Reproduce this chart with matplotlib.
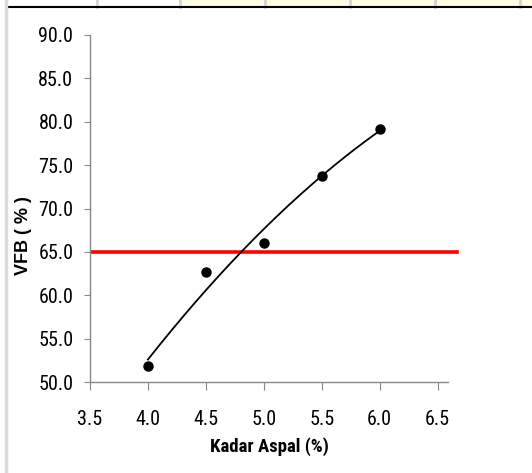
import numpy as np
import matplotlib
matplotlib.use("Agg")
import matplotlib.pyplot as plt
from matplotlib.patches import Rectangle
from matplotlib.lines import Line2D
from matplotlib import font_manager

# ── Data ──────────────────────────────────────────────────────────────────
kadar_aspal = [4.0, 4.5, 5.0, 5.5, 6.0]
vfb = [51.8, 62.7, 66.0, 73.8, 79.2]
vfb_limit = 65.0

x_ticks = [3.5, 4.0, 4.5, 5.0, 5.5, 6.0, 6.5]
y_ticks = [50.0, 55.0, 60.0, 65.0, 70.0, 75.0, 80.0, 85.0, 90.0]

# pick a narrow sans face if one is installed
names = {f.name for f in font_manager.fontManager.ttflist}
narrow = ["DejaVu Sans"]
for cand in ["Roboto Condensed", "Liberation Sans Narrow", "Open Sans Condensed",
             "Noto Sans Condensed"]:
    if cand in names:
        narrow = [cand, "DejaVu Sans"]
        break

W, H = 532, 473
fig = plt.figure(figsize=(W / 100, H / 100), dpi=100)

# spreadsheet bits around the chart
fig.patches.append(Rectangle((180 / W, 1 - 7 / H), 1, 7 / H, transform=fig.transFigure,
                             facecolor="#fffde0", edgecolor="none", zorder=0))
for sx in [97, 180, 265, 350, 435, 520]:
    fig.lines.append(Line2D([sx / W, sx / W], [1 - 7 / H, 1], transform=fig.transFigure,
                            color="#d4d4d4", lw=2))
fig.lines.append(Line2D([7 / W, 1], [1 - 7.5 / H, 1 - 7.5 / H], transform=fig.transFigure,
                        color="black", lw=1.5))
fig.lines.append(Line2D([6 / W, 6 / W], [0, 1], transform=fig.transFigure,
                        color="#dcdcdc", lw=2.5))

ax = fig.add_axes([90 / W, 1 - 382 / H, (448 - 90) / W, (382 - 35) / H])

# trendline (2nd order polynomial, like the spreadsheet)
coef = np.polyfit(kadar_aspal, vfb, 2)
xc = np.linspace(min(kadar_aspal), max(kadar_aspal), 200)
ax.plot(xc, np.polyval(coef, xc), color="black", lw=1.3, zorder=3)

ax.plot(kadar_aspal, vfb, "o", color="black", ms=6.5, zorder=4)

ax.plot([3.52, 6.67], [vfb_limit, vfb_limit], color="#ff0000", lw=2.6,
        clip_on=False, zorder=2)

ax.set_xlim(3.5, 6.59)
ax.set_ylim(50, 90)
ax.set_xticks(x_ticks)
ax.set_yticks(y_ticks)
ax.set_xticklabels([f"{v:.1f}" for v in x_ticks])
ax.set_yticklabels([f"{v:.1f}" for v in y_ticks])

for lab in ax.get_xticklabels() + ax.get_yticklabels():
    lab.set_family(narrow)
    lab.set_stretch("condensed")
    lab.set_fontsize(14.5)

for s in ["top", "right"]:
    ax.spines[s].set_visible(False)
for s in ["left", "bottom"]:
    ax.spines[s].set_color("#888888")
    ax.spines[s].set_linewidth(1)
ax.tick_params(axis="y", direction="out", length=4, color="#888888", pad=8)
ax.tick_params(axis="x", direction="out", length=6, color="#888888", pad=14)

fig.text(269 / W, 1 - 447 / H, "Kadar Aspal (%)", ha="center", va="center",
         family=narrow, stretch="condensed", fontweight="bold", fontsize=13.5)
fig.text(24 / W, 1 - 236 / H, "VFB ( % )", ha="center", va="center",
         rotation=90, family=["Liberation Sans", "DejaVu Sans"], stretch="normal",
         fontweight="bold", fontsize=13)

fig.savefig("out.png", dpi=100)
